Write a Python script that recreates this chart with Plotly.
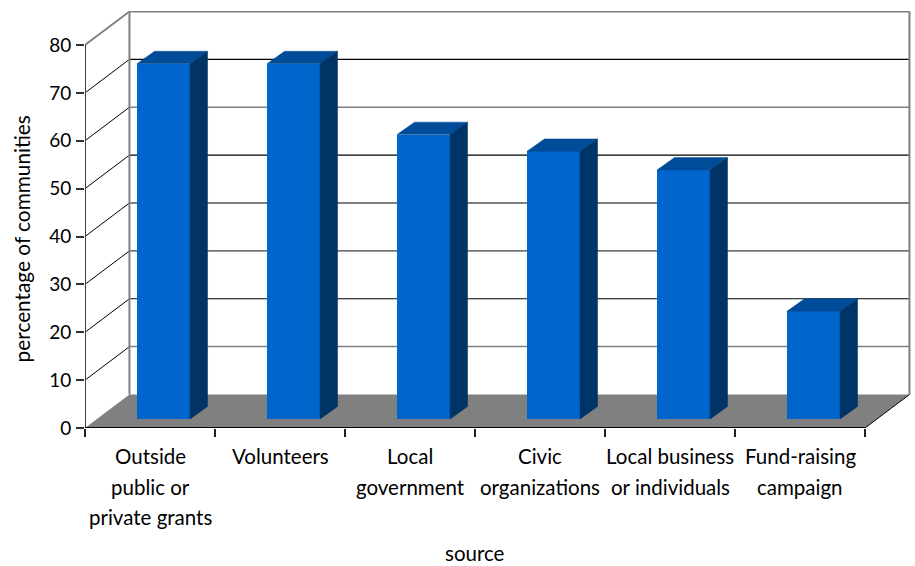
import plotly.graph_objects as go

# Funding sources and the share of communities using each one
source_lines = [
    ["Outside", "public or", "private grants"],
    ["Volunteers"],
    ["Local", "government"],
    ["Civic", "organizations"],
    ["Local business", "or individuals"],
    ["Fund-raising", "campaign"],
]
percent = [74.2, 74.2, 59.4, 55.9, 52.0, 22.5]
y_ticks = [0, 10, 20, 30, 40, 50, 60, 70, 80]
grid_colors = {10: "#808080", 20: "#000000", 30: "#404040", 40: "#000000",
               50: "#000000", 60: "#808080", 70: "#000000"}

FONT = "Lato"
N = len(percent)

# Box projection, in axis units
WALL_DX = 0.342      # depth of the box along x
WALL_DY = 7.0        # depth of the box along y
BAR_WIDTH = 0.408
BAR_SHIFT = 0.104    # bar front plane, offset from the front of the box
BAR_LIFT = 1.88
BAR_DX = 0.1346      # depth of a bar
BAR_DY = 2.6

y_max = 87.1

shapes = []


def line(x0, y0, x1, y1, color, width):
    shapes.append(dict(type="line", xref="x", yref="y", x0=x0, y0=y0, x1=x1, y1=y1,
                       line=dict(color=color, width=width), layer="below"))


# Floor of the box
shapes.append(dict(type="path", xref="x", yref="y", layer="below", fillcolor="#808080",
                   line=dict(width=0),
                   path=f"M 0 0 L {N} 0 L {N + WALL_DX} {WALL_DY} L {WALL_DX} {WALL_DY} Z"))

# Gridlines run along the left side and across the back wall
for v in y_ticks[1:-1]:
    c = grid_colors[v]
    line(0, v, WALL_DX, v + WALL_DY, "#000000", 1)
    line(WALL_DX, v + WALL_DY, N + WALL_DX, v + WALL_DY, c, 1.5 if c == "#808080" else 1.2)

# Outline of the back wall
line(0, 80, WALL_DX, 80 + WALL_DY, "#808080", 1.8)
line(WALL_DX, 80 + WALL_DY, N + WALL_DX, 80 + WALL_DY, "#808080", 2)
line(WALL_DX, WALL_DY, WALL_DX, 80 + WALL_DY, "#808080", 2)
line(N + WALL_DX, WALL_DY, N + WALL_DX, 80 + WALL_DY, "#808080", 2)
line(N, 0, N + WALL_DX, WALL_DY, "#000000", 1)

# Axis lines stop where the front of the box ends
line(0, 0, 0, 80, "#404040", 2)
line(0, 0, N, 0, "#000000", 2)

centers = [i + 0.5 + BAR_SHIFT for i in range(N)]

fig = go.Figure()

# Front faces
fig.add_trace(go.Bar(
    x=centers, y=percent, base=[BAR_LIFT] * N, width=BAR_WIDTH,
    marker=dict(color="#0066CC", line=dict(width=0)),
    hoverinfo="skip", showlegend=False,
))

# Top and side faces follow from each bar's value
top_x, top_y, side_x, side_y = [], [], [], []
for c, v in zip(centers, percent):
    left, right = c - BAR_WIDTH / 2, c + BAR_WIDTH / 2
    h = BAR_LIFT + v
    top_x += [left, right, right + BAR_DX, left + BAR_DX, left, None]
    top_y += [h, h, h + BAR_DY, h + BAR_DY, h, None]
    side_x += [right, right + BAR_DX, right + BAR_DX, right, right, None]
    side_y += [BAR_LIFT, BAR_LIFT + BAR_DY, h + BAR_DY, h, BAR_LIFT, None]

fig.add_trace(go.Scatter(x=top_x, y=top_y, mode="lines", fill="toself",
                         fillcolor="#004C99", line=dict(color="#004C99", width=0.5),
                         hoverinfo="skip", showlegend=False))
fig.add_trace(go.Scatter(x=side_x, y=side_y, mode="lines", fill="toself",
                         fillcolor="#003366", line=dict(color="#003366", width=0.5),
                         hoverinfo="skip", showlegend=False))

# Category labels, one annotation per line for the wide leading
annotations = []
for i, lines in enumerate(source_lines):
    for j, text in enumerate(lines):
        annotations.append(dict(
            x=i + 0.5, xref="x", y=0, yref="y", yanchor="middle", yshift=-(28 + 30.5 * j),
            text=text, showarrow=False, font=dict(family=FONT, size=20.5, color="#000000"),
        ))

# Axis titles
annotations.append(dict(x=(475 - 85) / 130, xref="x", y=0, yref="y", text="source", showarrow=False,
                        yshift=-125, yanchor="middle", borderpad=0,
                        font=dict(family=FONT, size=20.5, color="#000000")))
annotations.append(dict(x=0, xref="x", xshift=-63.5, y=39.5, yref="y", text="percentage of communities",
                        textangle=-90, showarrow=False, xanchor="center", yanchor="middle",
                        font=dict(family=FONT, size=20.8, color="#000000")))

fig.update_layout(
    width=915, height=566, autosize=False,
    margin=dict(l=85, r=3, t=428 - y_max * 4.7875, b=138, pad=0),
    paper_bgcolor="white", plot_bgcolor="white",
    bargap=0, shapes=shapes, annotations=annotations,
    xaxis=dict(range=[0, (912 - 85) / 130], tickmode="array", tickvals=list(range(N + 1)),
               showticklabels=False, ticks="outside", ticklen=8, tickwidth=1.5, tickcolor="#202020",
               showgrid=False, zeroline=False, showline=False),
    yaxis=dict(range=[0, y_max], tickmode="array", tickvals=y_ticks, ticktext=[str(v) for v in y_ticks],
               ticks="outside", ticklen=8, tickwidth=1.5, tickcolor="#303030",
               tickfont=dict(family=FONT, size=19, color="#000000"), ticklabelstandoff=1,
               showgrid=False, zeroline=False, showline=False),
)

fig.write_html("out.html", config=dict(displayModeBar=False))
